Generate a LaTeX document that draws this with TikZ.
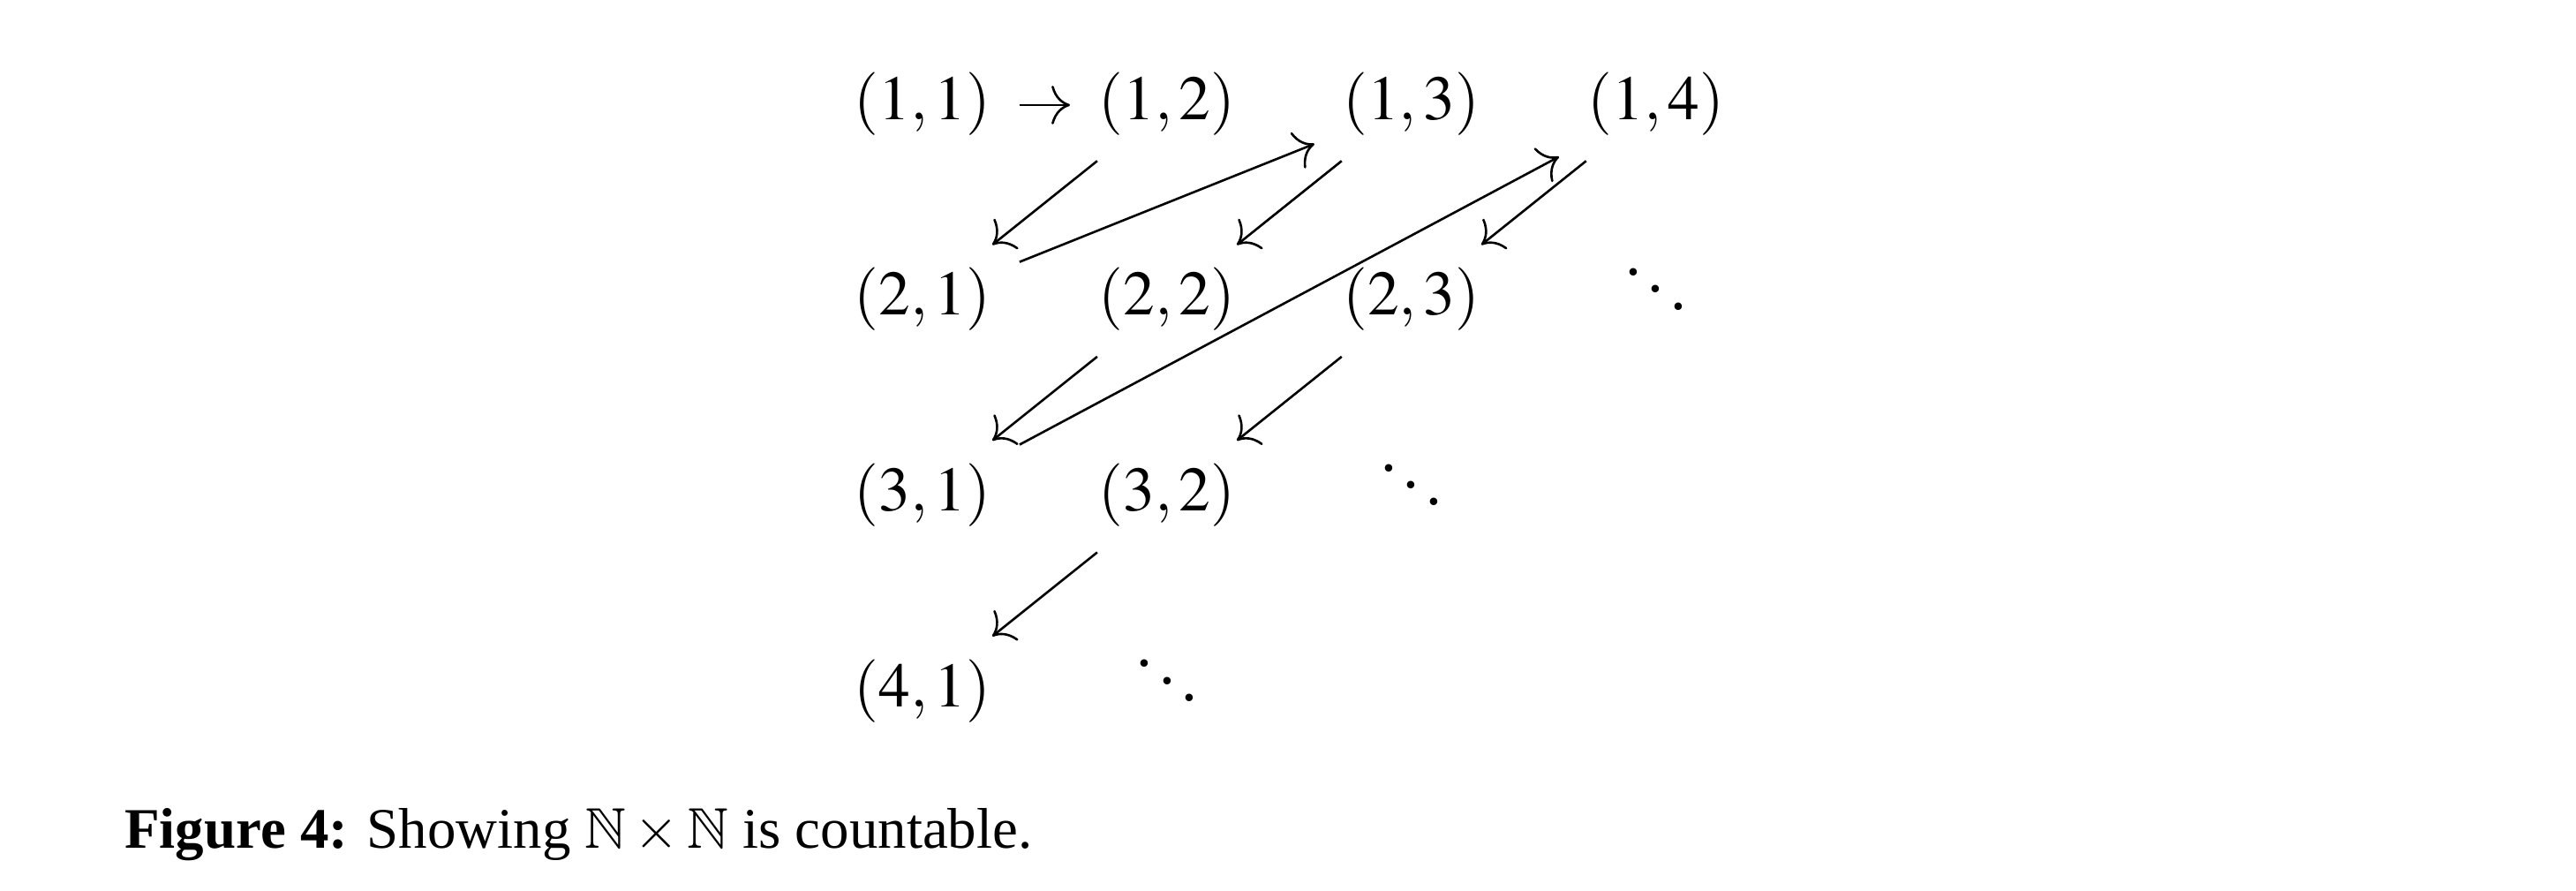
\documentclass[tikz,border=0pt]{standalone}
\usepackage{mathptmx}
\usepackage{amssymb}
\usepackage{fontspec}
\setmainfont{Liberation Serif}
\usepackage{tikz}
\usetikzlibrary{cd}

\tikzset{pair/.style={font=\fontsize{11}{13}\selectfont, inner xsep=0.17cm, inner ysep=0.16cm, text height=0.75em, text depth=0.25em},
    >={cm to[scale=1.3]}}

\begin{document}
\begin{tikzpicture}
    \useasboundingbox (0, 0) rectangle (15.8, -5.463);

    \node[pair] at (5.658, -0.644) (p11) {$(1,1)$};
    \node[pair] at (7.158, -0.644) (p12) {$(1,2)$};
    \node[pair] at (8.657, -0.644) (p13) {$(1,3)$};
    \node[pair] at (10.157, -0.644) (p14) {$(1,4)$};
    \node[pair] at (5.658, -1.844) (p21) {$(2,1)$};
    \node[pair] at (7.158, -1.844) (p22) {$(2,2)$};
    \node[pair] at (8.657, -1.844) (p23) {$(2,3)$};
    \node[pair] at (10.157, -1.844) (d24) {$\ddots$};
    \node[pair] at (5.658, -3.044) (p31) {$(3,1)$};
    \node[pair] at (7.158, -3.044) (p32) {$(3,2)$};
    \node[pair] at (8.657, -3.044) (d33) {$\ddots$};
    \node[pair] at (5.658, -4.244) (p41) {$(4,1)$};
    \node[pair] at (7.158, -4.244) (d42) {$\ddots$};

    \draw[->] (p11) to (p12);
    \draw[->] (p12) to (p21); \draw[->] (p21) to (p13);
    \draw[->] (p13) to (p22); \draw[->] (p22) to (p31);
    \draw[->] (p31) to (p14); \draw[->] (p14) to (p23);
    \draw[->] (p23) to (p32); \draw[->] (p32) to (p41);

    \node[anchor=base west, inner sep=0] at (0.758, -5.198) (caption)
        {\textbf{Figure 4:} Showing $\mathbb{N}\times\mathbb{N}$ is countable.};
\end{tikzpicture}
\end{document}
